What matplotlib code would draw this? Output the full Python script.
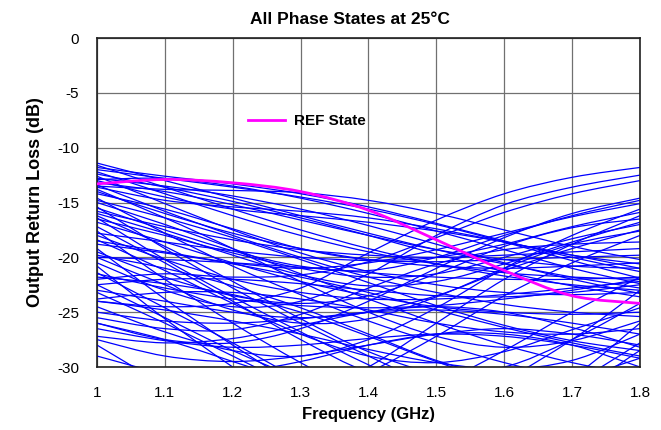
import matplotlib
matplotlib.use("Agg")
import matplotlib.pyplot as plt
from matplotlib.path import Path
from matplotlib.patches import PathPatch
from matplotlib.lines import Line2D

plt.rcParams["font.family"] = ["Liberation Sans", "DejaVu Sans"]
plt.rcParams["axes.unicode_minus"] = False

FREQ_GHZ = [1.0, 1.1, 1.2, 1.3, 1.4, 1.5, 1.6, 1.7, 1.8]

REF_STATE = [-13.3, -12.9, -13.2, -14.0, -15.7, -18.4, -21.2, -23.5, -24.2]

# return loss (dB) of the other phase states, read at FREQ_GHZ
PHASE_STATES = [
    [-11.4, -13.0, -14.6, -16.2, -17.8, -19.3, -20.6, -21.8, -22.8],
    [-11.6, -13.6, -15.6, -17.5, -19.2, -20.6, -21.7, -22.5, -23.0],
    [-11.8, -12.6, -13.3, -14.2, -15.4, -16.9, -18.5, -20.0, -21.3],
    [-12.0, -12.8, -13.6, -14.5, -15.6, -17.0, -18.6, -20.3, -21.9],
    [-12.2, -14.2, -16.2, -18.0, -19.5, -20.6, -21.4, -21.8, -22.0],
    [-12.4, -13.6, -14.9, -16.4, -18.0, -19.7, -21.3, -22.6, -23.6],
    [-12.6, -15.1, -17.5, -19.6, -21.3, -22.5, -23.2, -23.4, -23.2],
    [-12.8, -13.5, -14.4, -15.6, -17.1, -18.8, -20.5, -22.0, -23.3],
    [-13.0, -14.5, -15.6, -16.2, -16.8, -17.6, -18.6, -19.8, -21.0],
    [-13.2, -14.0, -15.2, -16.6, -18.0, -19.3, -20.2, -20.8, -21.0],
    [-13.4, -15.8, -18.0, -20.0, -21.8, -23.2, -24.3, -25.0, -25.4],
    [-13.6, -14.8, -15.4, -15.8, -16.4, -17.4, -18.6, -19.8, -20.6],
    [-12.9, -12.8, -13.5, -14.6, -16.0, -17.6, -19.3, -21.0, -22.4],
    [-13.5, -13.8, -13.9, -14.1, -14.8, -16.0, -17.5, -19.0, -20.2],
    [-14.6, -17.8, -20.8, -23.4, -25.8, -27.8, -29.6, -31.0, -32.0],
    [-15.4, -19.2, -22.8, -26.0, -29.0, -31.8, -34.0, -35.5, -36.0],
    [-16.4, -20.2, -23.6, -26.8, -29.8, -32.6, -35.0, -36.5, -37.0],
    [-17.6, -22.0, -26.0, -29.6, -32.8, -35.6, -37.8, -39.0, -39.5],
    [-19.2, -23.8, -28.0, -31.8, -35.0, -37.8, -39.5, -40.5, -40.5],
    [-20.8, -25.6, -30.0, -34.0, -37.4, -40.0, -41.8, -42.5, -42.5],
    [-21.4, -24.6, -27.8, -31.2, -34.4, -37.2, -39.4, -40.5, -41.0],
    [-24.0, -24.5, -24.2, -22.8, -19.6, -16.6, -14.2, -12.7, -11.8],
    [-20.5, -23.0, -24.5, -24.0, -21.5, -18.0, -15.2, -13.6, -12.5],
    [-22.0, -21.5, -21.8, -21.6, -20.4, -18.2, -15.9, -14.2, -13.0],
    [-15.5, -17.5, -19.4, -20.8, -21.2, -20.0, -18.0, -16.2, -14.8],
    [-18.5, -19.5, -20.5, -21.0, -20.5, -19.3, -17.8, -16.3, -15.1],
    [-26.0, -27.5, -27.8, -26.5, -24.0, -21.0, -18.2, -16.0, -14.6],
    [-24.5, -26.8, -28.5, -29.0, -27.5, -24.6, -21.0, -18.0, -15.6],
    [-28.0, -31.5, -33.5, -33.0, -30.0, -26.0, -22.0, -18.8, -16.2],
    [-19.5, -21.8, -23.5, -24.2, -23.5, -21.5, -19.0, -17.3, -16.5],
    [-16.5, -18.0, -19.6, -21.0, -21.8, -21.5, -20.0, -18.3, -17.0],
    [-23.0, -24.0, -25.0, -25.5, -25.0, -23.5, -21.2, -19.2, -17.5],
    [-30.5, -33.0, -34.0, -33.0, -30.5, -27.2, -23.5, -20.5, -18.0],
    [-15.8, -17.2, -18.4, -19.3, -19.8, -20.0, -19.8, -19.5, -19.2],
    [-17.8, -18.6, -19.4, -20.0, -20.3, -20.4, -20.2, -20.0, -19.8],
    [-14.0, -16.0, -17.8, -19.2, -20.2, -20.8, -21.0, -20.8, -20.5],
    [-20.0, -20.2, -20.5, -20.9, -21.4, -21.8, -22.0, -22.0, -21.8],
    [-22.5, -22.0, -22.0, -22.4, -23.0, -23.5, -23.6, -23.2, -22.5],
    [-18.0, -20.2, -22.0, -23.2, -23.8, -23.8, -23.4, -22.8, -22.2],
    [-21.5, -22.8, -23.8, -24.4, -24.6, -24.4, -23.8, -23.0, -22.0],
    [-16.8, -18.6, -20.5, -22.2, -23.5, -24.5, -25.0, -25.2, -25.0],
    [-23.8, -23.2, -23.2, -23.8, -24.8, -26.0, -26.8, -27.0, -26.5],
    [-25.0, -25.8, -26.0, -25.6, -25.0, -24.8, -25.2, -26.0, -27.0],
    [-14.8, -16.4, -18.2, -20.2, -22.3, -24.4, -26.2, -27.6, -28.5],
    [-15.0, -17.0, -19.2, -21.5, -23.8, -26.0, -28.0, -29.6, -30.8],
    [-18.8, -19.6, -20.6, -21.8, -23.2, -24.8, -26.4, -27.8, -29.0],
    [-19.8, -21.0, -22.6, -24.6, -27.0, -29.4, -31.0, -31.0, -29.2],
    [-21.8, -22.4, -23.4, -25.0, -27.2, -29.5, -31.5, -32.0, -28.5],
    [-24.0, -24.8, -25.8, -27.0, -28.4, -29.6, -30.2, -29.4, -27.0],
    [-26.5, -27.6, -28.2, -28.0, -27.4, -27.0, -27.2, -28.0, -29.2],
    [-27.2, -27.8, -27.4, -26.2, -25.0, -24.5, -25.0, -26.4, -28.2],
    [-29.0, -30.5, -30.5, -29.5, -28.0, -27.0, -27.0, -28.0, -30.0],
    [-22.5, -25.5, -28.5, -31.0, -32.5, -31.5, -28.5, -25.0, -21.8],
    [-17.2, -20.5, -24.0, -27.5, -30.5, -32.0, -31.0, -27.5, -23.0],
    [-16.2, -19.0, -22.2, -25.6, -28.6, -30.5, -30.0, -27.5, -24.2],
    [-13.8, -16.4, -19.2, -22.2, -25.0, -27.2, -28.2, -27.6, -25.8],
    [-14.2, -15.6, -17.4, -19.2, -20.2, -20.0, -18.8, -17.2, -15.9],
    [-16.0, -17.8, -19.8, -21.6, -22.6, -22.2, -20.6, -18.6, -16.8],
    [-20.0, -22.5, -24.8, -26.0, -25.6, -23.6, -21.0, -18.8, -17.6],
    [-25.5, -26.5, -26.6, -25.2, -22.8, -20.6, -19.3, -18.8, -18.6],
    [-27.5, -29.0, -29.5, -29.0, -28.0, -27.0, -26.5, -27.0, -28.0],
    [-26.0, -27.5, -29.5, -31.5, -33.5, -34.5, -34.0, -31.5, -27.8],
    [-23.2, -26.0, -29.0, -32.0, -34.5, -35.5, -34.5, -31.0, -26.0],
    [-18.4, -21.2, -24.2, -27.0, -29.0, -29.6, -28.6, -26.6, -24.6],
]


def smooth_path(xs, ys):
    # Excel-style smoothed line: bezier segments through every point
    pts = list(zip(xs, ys))
    verts = [pts[0]]
    codes = [Path.MOVETO]
    n = len(pts)
    for i in range(n - 1):
        p0 = pts[i - 1] if i > 0 else pts[i]
        p1 = pts[i]
        p2 = pts[i + 1]
        p3 = pts[i + 2] if i + 2 < n else pts[i + 1]
        c1 = (p1[0] + (p2[0] - p0[0]) / 6, p1[1] + (p2[1] - p0[1]) / 6)
        c2 = (p2[0] - (p3[0] - p1[0]) / 6, p2[1] - (p3[1] - p1[1]) / 6)
        verts += [c1, c2, p2]
        codes += [Path.CURVE4] * 3
    return Path(verts, codes)


fig = plt.figure(figsize=(6.61, 4.30), dpi=100)
ax = fig.add_axes([0.1467, 0.1465, 0.8215, 0.765])

for state in PHASE_STATES:
    ax.add_patch(PathPatch(smooth_path(FREQ_GHZ, state), fill=False,
                           edgecolor="#0000FF", lw=0.9, zorder=2))
ax.add_patch(PathPatch(smooth_path(FREQ_GHZ, REF_STATE), fill=False,
                       edgecolor="#FF00FF", lw=2.0, zorder=3))

ax.set_xlim(1.0, 1.8)
ax.set_ylim(-30, 0)
ax.set_xticks(FREQ_GHZ)
ax.set_xticklabels(["1", "1.1", "1.2", "1.3", "1.4", "1.5", "1.6", "1.7", "1.8"])
ax.set_yticks([0, -5, -10, -15, -20, -25, -30])
ax.tick_params(axis="x", length=0, labelsize=11, pad=14)
ax.tick_params(axis="y", length=0, labelsize=11, pad=13)
ax.grid(True, color="#707070", lw=0.9)
ax.set_axisbelow(True)
for sp in ax.spines.values():
    sp.set_color("#202020")
    sp.set_linewidth(1.2)

ax.set_title("All Phase States at 25°C", fontsize=12.5, fontweight="bold",
             x=0.465, pad=10)
ax.set_xlabel("Frequency (GHz)", fontsize=12, fontweight="bold", labelpad=5)
ax.set_ylabel("Output Return Loss (dB)", fontsize=13, fontweight="bold", labelpad=9)

handle = Line2D([], [], color="#FF00FF", lw=2.0)
ax.legend([handle], ["REF State"], loc="center left", bbox_to_anchor=(0.278, 0.748),
          frameon=False, borderpad=0, borderaxespad=0, handlelength=2.4,
          handletextpad=0.6, prop={"weight": "bold", "size": 11})

fig.savefig("out.png", dpi=100)
